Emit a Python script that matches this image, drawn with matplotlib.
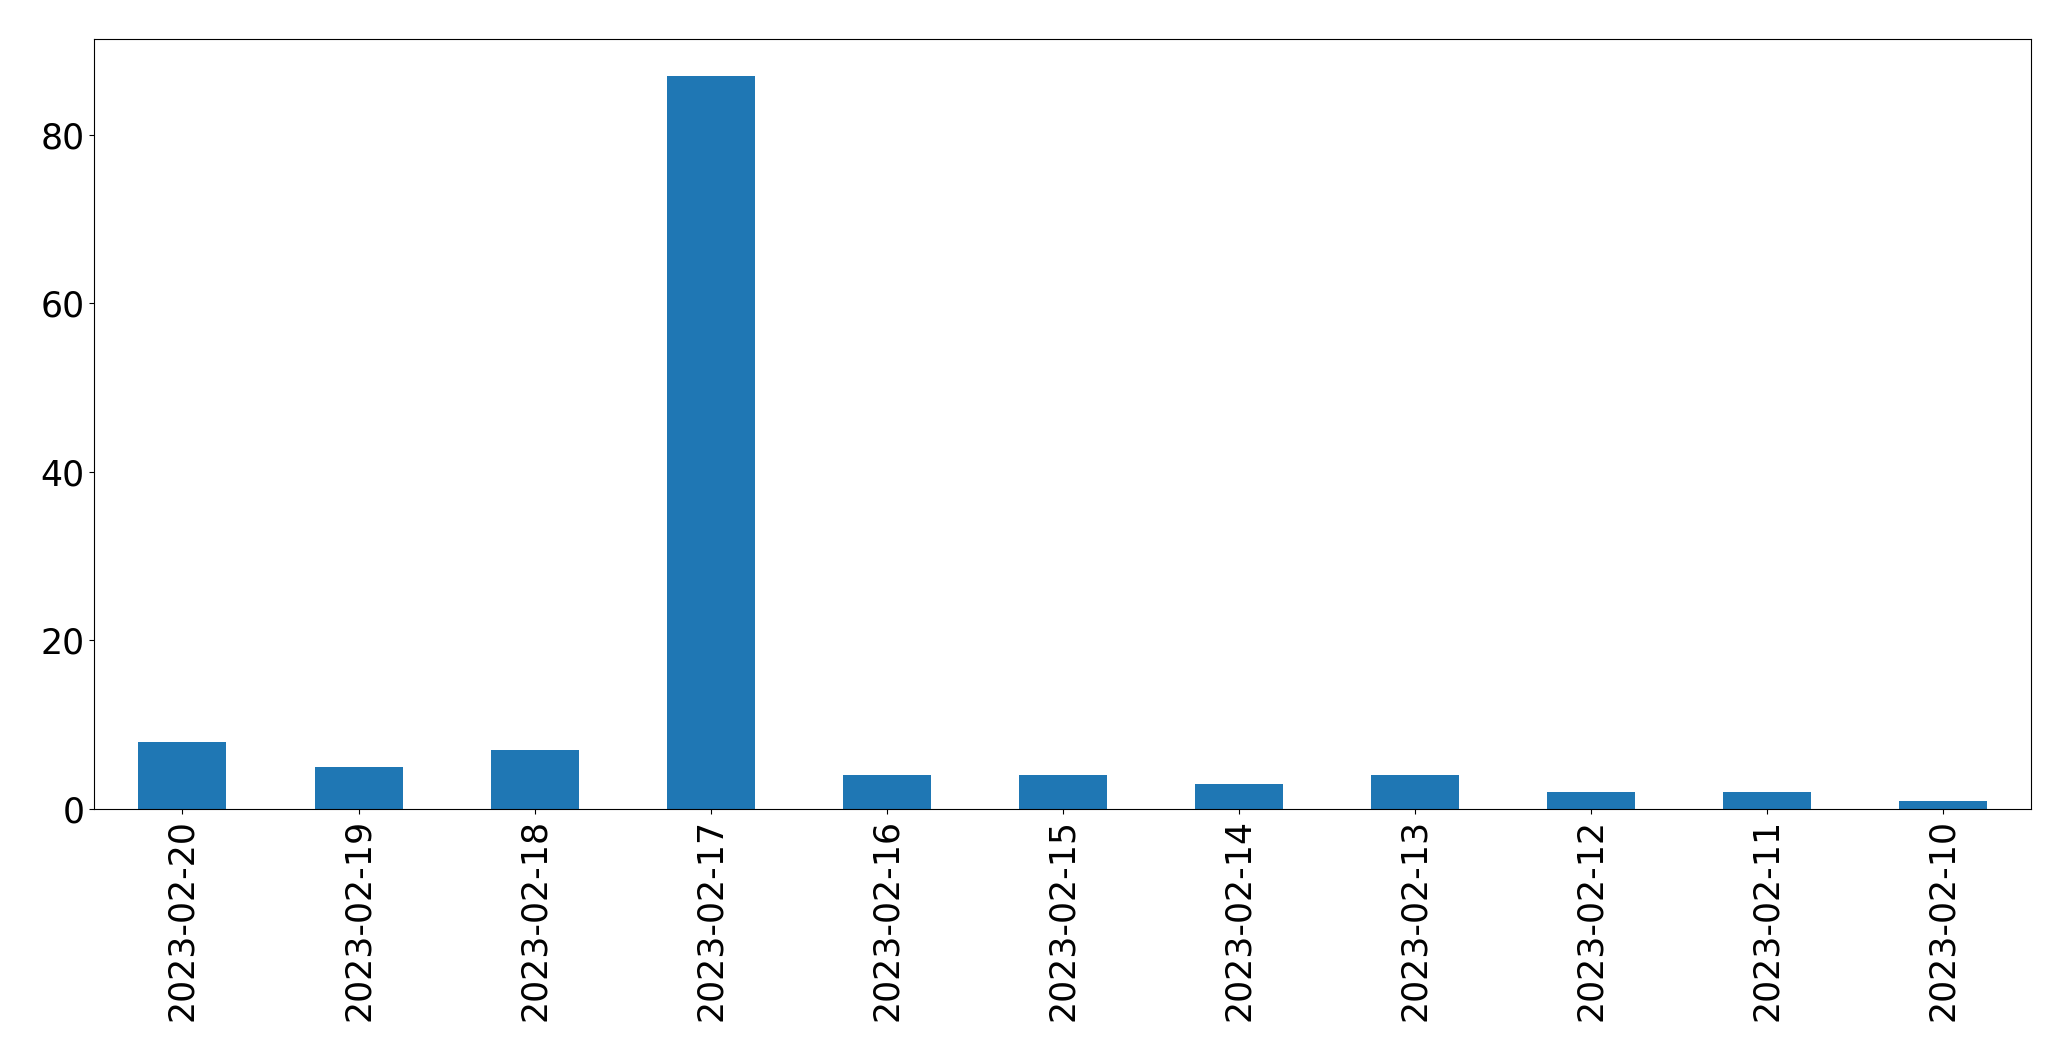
import pandas as pd
import matplotlib
matplotlib.use('Agg')
import matplotlib.pyplot as plt

dates = ['2023-02-20', '2023-02-19', '2023-02-18', '2023-02-17', '2023-02-16',
         '2023-02-15', '2023-02-14', '2023-02-13', '2023-02-12', '2023-02-11',
         '2023-02-10']
counts = [8, 5, 7, 87, 4, 4, 3, 4, 2, 2, 1]

data = pd.Series(counts, index=dates)

fig = plt.figure(figsize=(20.71, 10.61), dpi=100)
ax = fig.add_axes([0.0456, 0.2375, 0.9351, 0.7257])
data.plot(kind='bar', ax=ax, color='#1f77b4')
ax.tick_params(labelsize=25)
plt.savefig('out.png', dpi=100)
